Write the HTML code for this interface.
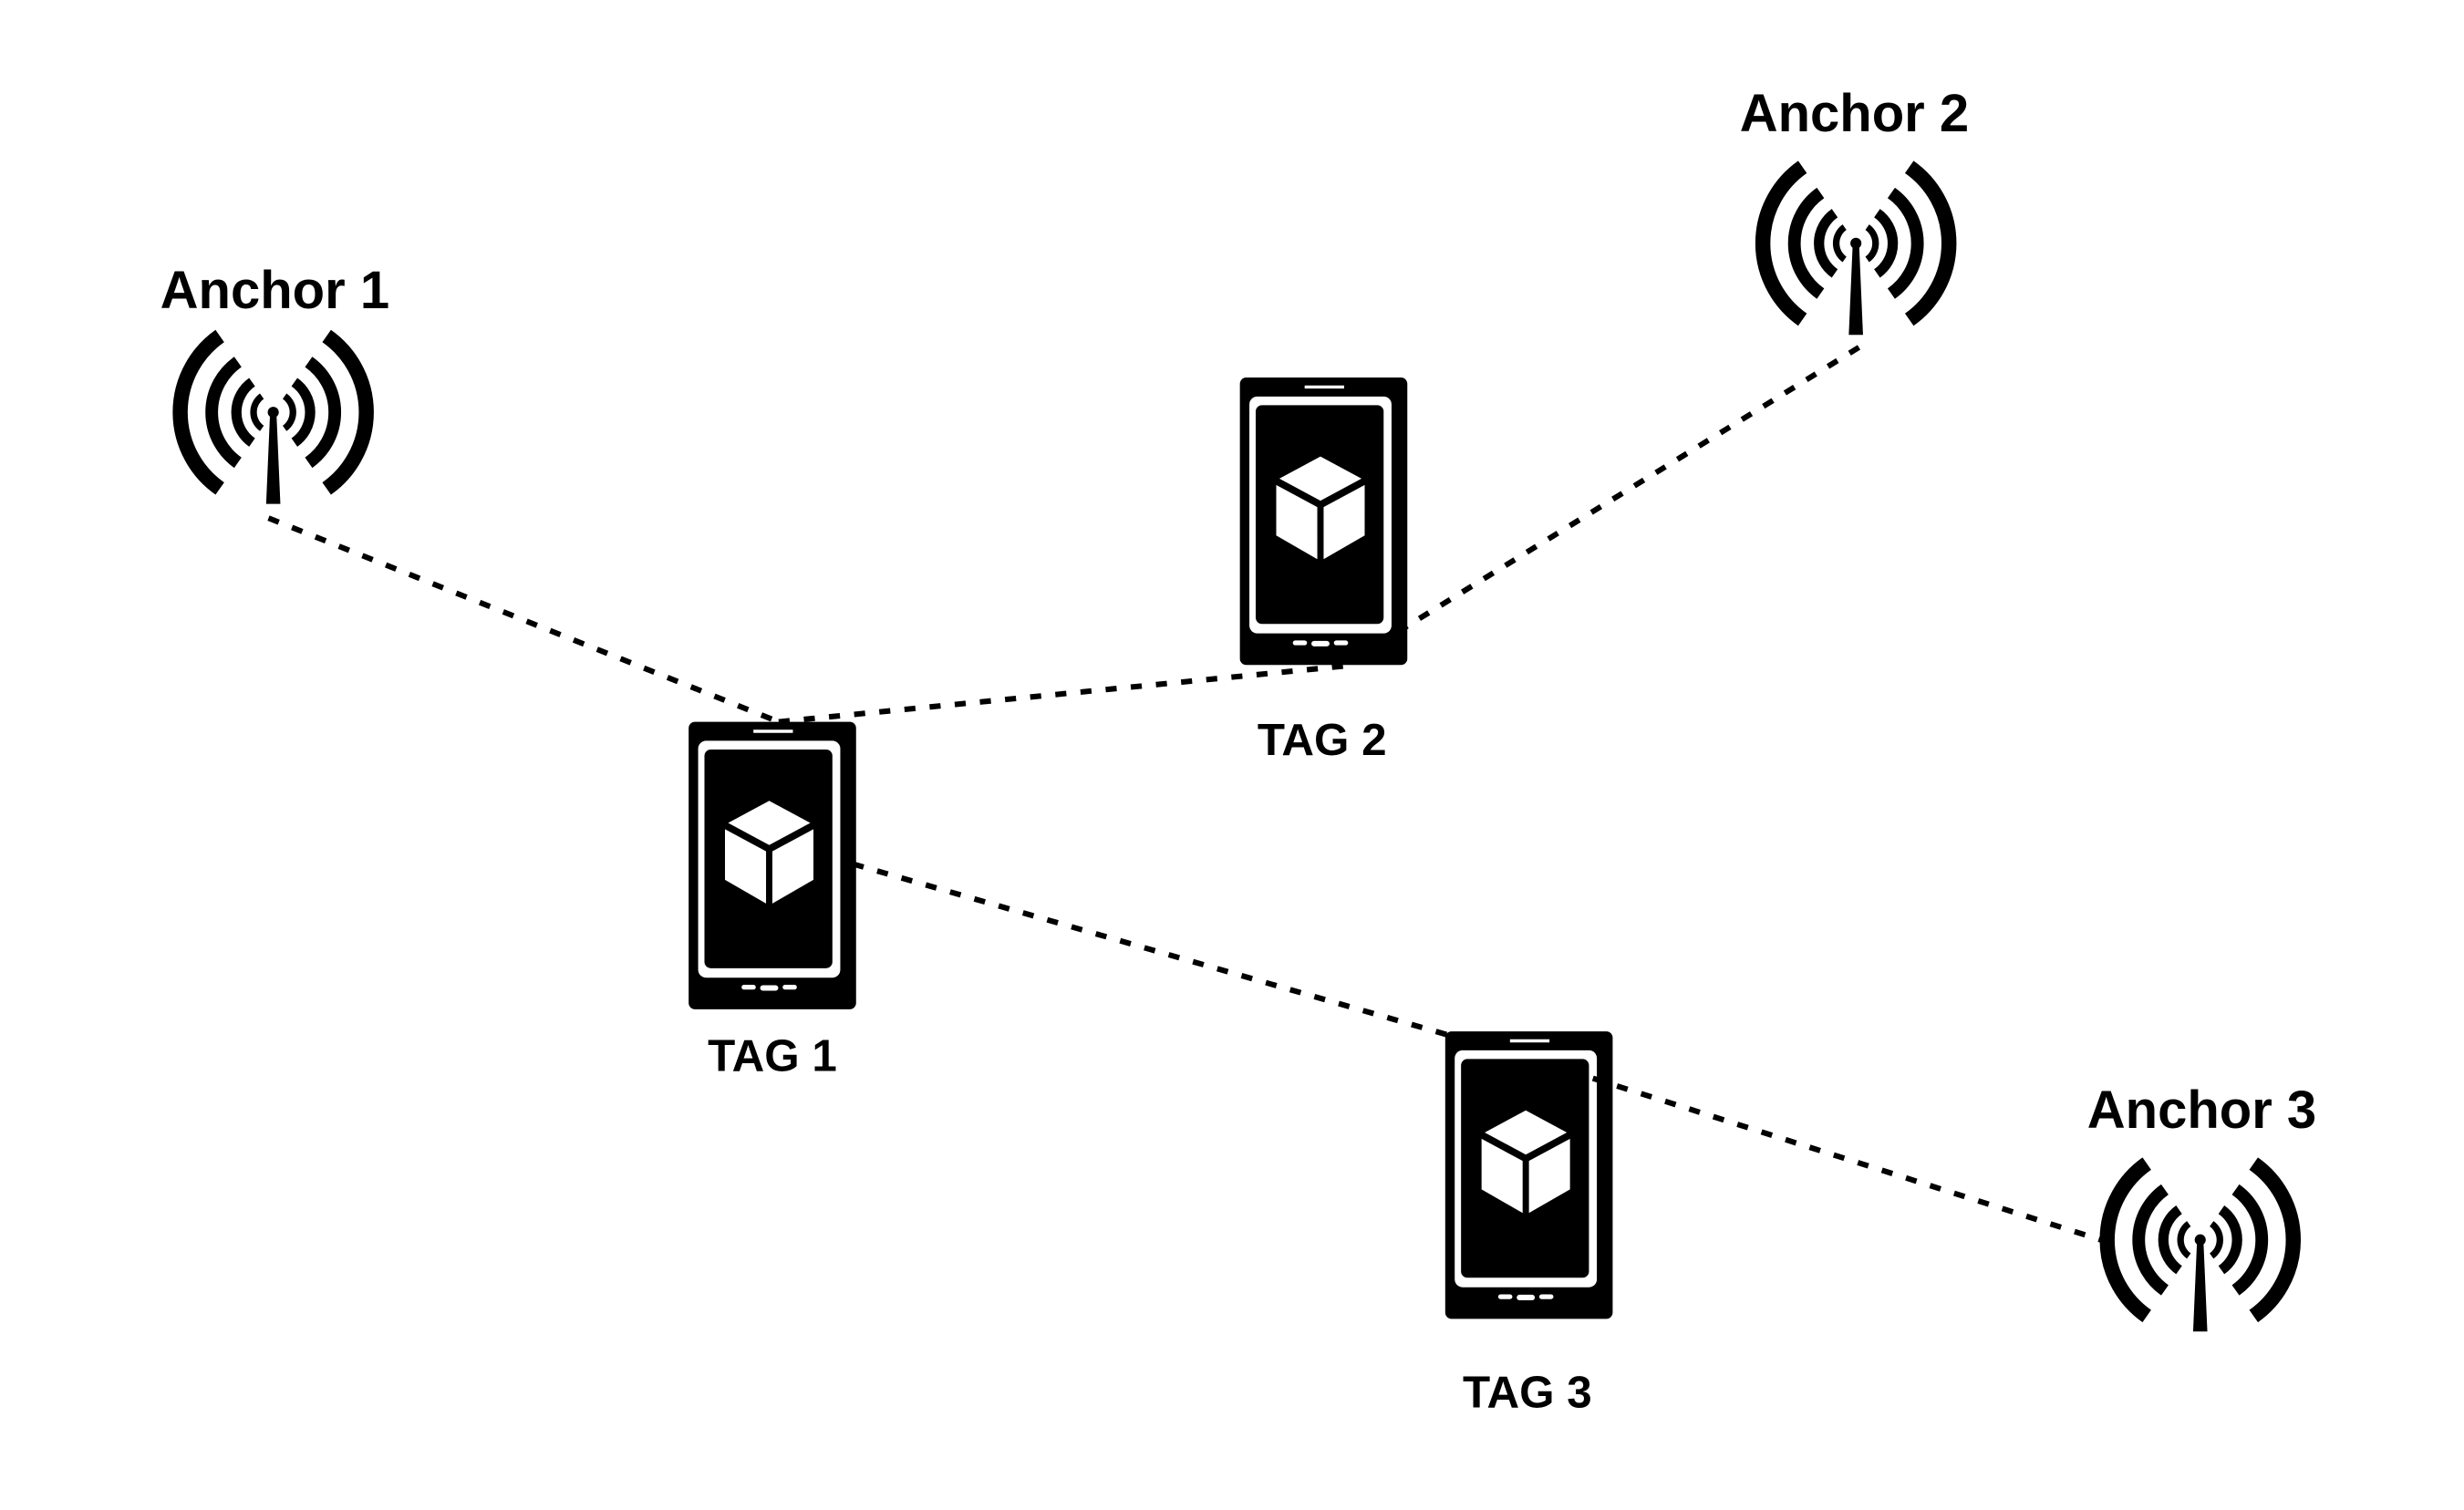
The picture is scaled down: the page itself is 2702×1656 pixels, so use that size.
<!DOCTYPE html>
<html><head><meta charset="utf-8"><style>
html,body{margin:0;padding:0;background:#fff;}
svg{display:block;}
text{font-family:"Liberation Sans",Arial,sans-serif;font-weight:bold;fill:#000;text-anchor:middle;}
</style></head><body>
<svg width="2702" height="1656" viewBox="0 0 1560 956" xmlns="http://www.w3.org/2000/svg">
<defs>
<g id="phone">
<rect x="0" y="0" width="106" height="182" rx="4" fill="#000"/>
<line x1="41" y1="6" x2="66" y2="6" stroke="#fff" stroke-width="2"/>
<rect x="6" y="12" width="90" height="150" rx="5" fill="#fff"/>
<rect x="10" y="17.5" width="81" height="138.5" rx="4" fill="#000"/>
<polygon points="51,50 77,64 51,78 25,64" fill="#fff"/>
<polygon points="23,68 49,82 49,115 23,100" fill="#fff"/>
<polygon points="79,68 53,82 53,115 79,100" fill="#fff"/>
<line x1="35" y1="168" x2="41" y2="168" stroke="#fff" stroke-width="3" stroke-linecap="round"/>
<line x1="47" y1="168.5" x2="55" y2="168.5" stroke="#fff" stroke-width="3.5" stroke-linecap="round"/>
<line x1="61" y1="168" x2="67" y2="168" stroke="#fff" stroke-width="3" stroke-linecap="round"/>
</g>
<g id="anchor" fill="none" stroke="#000">
<path d="M-33.8,-48.3 A59,59 0 0 0 -33.8,48.3" stroke-width="9.5"/>
<path d="M33.8,-48.3 A59,59 0 0 1 33.8,48.3" stroke-width="9.5"/>
<path d="M-22.4,-31.9 A39,39 0 0 0 -22.4,31.9" stroke-width="8"/>
<path d="M22.4,-31.9 A39,39 0 0 1 22.4,31.9" stroke-width="8"/>
<path d="M-13.4,-19.1 A23.3,23.3 0 0 0 -13.4,19.1" stroke-width="6.5"/>
<path d="M13.4,-19.1 A23.3,23.3 0 0 1 13.4,19.1" stroke-width="6.5"/>
<path d="M-7.2,-10.2 A12.5,12.5 0 0 0 -7.2,10.2" stroke-width="4.2"/>
<path d="M7.2,-10.2 A12.5,12.5 0 0 1 7.2,10.2" stroke-width="4.2"/>
<circle cx="0" cy="0" r="3.5" fill="#000" stroke="none"/>
<polygon points="-2,0 2,0 4.5,58 -4.5,58" fill="#000" stroke="none"/>
</g>
</defs>
<g stroke="#000" stroke-width="3.5" stroke-dasharray="7 9" fill="none">
<line x1="170" y1="328" x2="493" y2="457"/>
<line x1="493" y1="457" x2="858" y2="421"/>
<line x1="885" y1="400" x2="1180" y2="218"/>
<line x1="540" y1="547" x2="975" y2="672"/>
</g>
<use href="#anchor" x="173" y="261"/>
<use href="#anchor" x="1175" y="154"/>
<use href="#anchor" x="1393" y="785"/>
<use href="#phone" x="436" y="457"/>
<use href="#phone" x="785" y="239"/>
<use href="#phone" x="915" y="653"/>
<g stroke="#000" stroke-width="3.5" stroke-dasharray="7 9" fill="none">
<line x1="978" y1="673" x2="1330" y2="785"/>
</g>
<text x="174" y="195" font-size="33.5">Anchor 1</text>
<text x="1174" y="83" font-size="33.5">Anchor 2</text>
<text x="1394" y="714" font-size="33.5">Anchor 3</text>
<text x="489" y="678" font-size="28.5">TAG 1</text>
<text x="837" y="478" font-size="28.5">TAG 2</text>
<text x="967" y="891" font-size="28.5">TAG 3</text>
</svg>
</body></html>
